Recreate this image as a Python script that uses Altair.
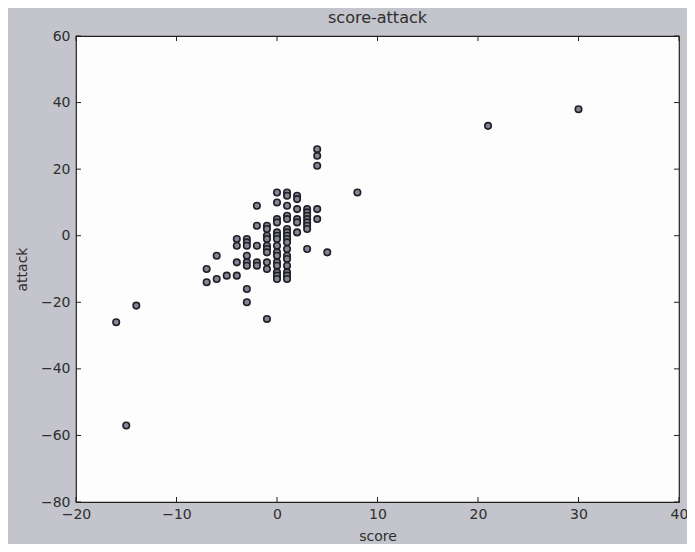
import altair as alt
import pandas as pd

# score / attack pairs
SCORE = [-16, -15, -14, -7, -7, -6, -6, -5,
         -4, -4, -4, -4,
         -3, -3, -3, -3, -3, -3, -3, -3,
         -2, -2, -2, -2, -2,
         -1, -1, -1, -1, -1, -1, -1, -1, -1, -1,
         0, 0, 0, 0, 0, 0, 0, 0, 0, 0, 0, 0, 0, 0, 0,
         1, 1, 1, 1, 1, 1, 1, 1, 1, 1, 1, 1, 1, 1, 1, 1, 1,
         2, 2, 2, 2, 2, 2,
         3, 3, 3, 3, 3, 3, 3, 3,
         4, 4, 4, 4, 4,
         5, 8, 21, 30]
ATTACK = [-26, -57, -21, -10, -14, -6, -13, -12,
          -1, -3, -8, -12,
          -1, -2, -3, -6, -8, -9, -16, -20,
          9, 3, -3, -8, -9,
          3, 2, 0, -1, -3, -4, -5, -8, -10, -25,
          13, 10, 5, 4, 1, 0, -1, -3, -5, -6, -8, -9, -11, -12, -13,
          13, 12, 9, 6, 5, 2, 1, 0, -1, -2, -4, -6, -7, -9, -11, -12, -13,
          12, 11, 8, 5, 4, 1,
          8, 7, 6, 5, 4, 3, 2, -4,
          26, 24, 21, 8, 5,
          -5, 13, 33, 38]

X_TICKS = [-20, -10, 0, 10, 20, 30, 40]
Y_TICKS = [-80, -60, -40, -20, 0, 20, 40, 60]
TITLE = ["score-attack"]

W, H = 603, 466
FONT = "DejaVu Sans"
TXT = "#2e2e2e"

pts = pd.DataFrame({"score": SCORE, "attack": ATTACK})
xt = pd.DataFrame({"v": X_TICKS})
yt = pd.DataFrame({"v": Y_TICKS})
tt = pd.DataFrame({"t": TITLE})

xscale = alt.Scale(domain=[-20, 40], nice=False, zero=False)
yscale = alt.Scale(domain=[-80, 60], nice=False, zero=False)

xaxis = alt.Axis(values=X_TICKS, format="d", grid=False, ticks=False, tickSize=0,
                 domain=False, labelFont=FONT, labelFontSize=14, labelColor=TXT,
                 labelBaseline="middle", labelPadding=12, labelFlush=False,
                 titleFont=FONT, titleFontSize=14, titleFontWeight="normal",
                 titleColor=TXT, titleX=W / 2, titleY=34, titleBaseline="middle")
yaxis = alt.Axis(values=Y_TICKS, format="d", grid=False, ticks=False, tickSize=0,
                 domain=False, labelFont=FONT, labelFontSize=14, labelColor=TXT,
                 labelPadding=6, labelFlush=False,
                 titleFont=FONT, titleFontSize=14, titleFontWeight="normal",
                 titleColor=TXT, titleX=-54, titleY=H / 2, titleBaseline="middle",
                 titleAlign="center")

scatter = alt.Chart(pts).mark_circle(
    size=42, fill="#858594", stroke="#1f1f27", strokeWidth=1.6, opacity=1
).encode(
    x=alt.X("score:Q", scale=xscale, axis=xaxis, title="score"),
    y=alt.Y("attack:Q", scale=yscale, axis=yaxis, title="attack"),
)

TL = 5
tick_style = dict(color="#222222", strokeWidth=1)
xt_bottom = alt.Chart(xt).mark_rule(**tick_style).encode(
    x=alt.X("v:Q", scale=xscale), y=alt.value(H), y2=alt.value(H - TL))
xt_top = alt.Chart(xt).mark_rule(**tick_style).encode(
    x=alt.X("v:Q", scale=xscale), y=alt.value(0), y2=alt.value(TL))
yt_left = alt.Chart(yt).mark_rule(**tick_style).encode(
    y=alt.Y("v:Q", scale=yscale), x=alt.value(0), x2=alt.value(TL))
yt_right = alt.Chart(yt).mark_rule(**tick_style).encode(
    y=alt.Y("v:Q", scale=yscale), x=alt.value(W), x2=alt.value(W - TL))

title = alt.Chart(tt).mark_text(
    font=FONT, fontSize=16, color=TXT, align="center", baseline="alphabetic"
).encode(text="t:N", x=alt.value(W / 2), y=alt.value(-13))

chart = alt.layer(scatter, xt_bottom, xt_top, yt_left, yt_right, title).properties(
    width=W, height=H,
    autosize=alt.AutoSizeParams(type="none"),
    padding={"left": 68, "top": 28, "right": 8, "bottom": 42},
).configure(background="#c4c4cc").configure_view(
    fill="#fdfdfd", stroke="#222222", strokeWidth=1.2
)

chart.save("out.html", embed_options={"renderer": "svg", "actions": False})
